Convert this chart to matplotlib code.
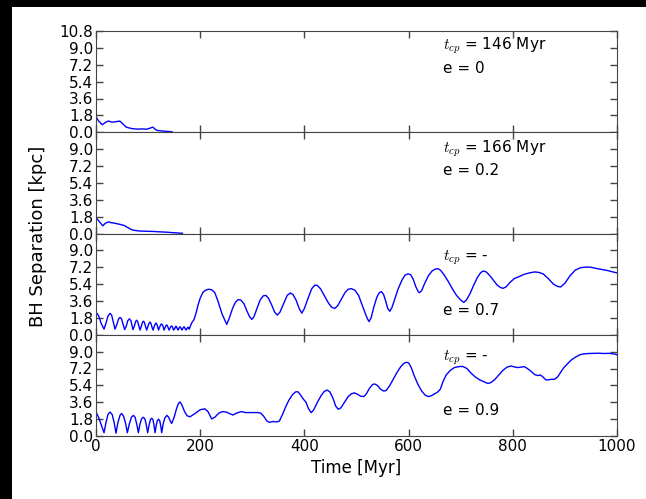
import matplotlib
matplotlib.use('Agg')
import matplotlib.pyplot as plt
from matplotlib.patches import Rectangle

plt.rcParams['font.family'] = ['DejaVu Sans']
plt.rcParams['mathtext.fontset'] = 'cm'

# BH separation [kpc] vs time [Myr] for the four eccentricities
t_e0 = [0, 5, 12, 18, 24, 29, 34, 40, 46, 52, 58, 64, 70, 76, 81, 89, 97, 103, 109, 113, 117, 125, 133, 140, 146]
r_e0 = [1.65, 1.2, 0.8, 1.05, 1.2, 1.1, 1.08, 1.15, 1.19, 0.85, 0.55, 0.45, 0.38, 0.35, 0.33, 0.36, 0.32, 0.42,
        0.55, 0.35, 0.2, 0.15, 0.1, 0.08, 0.05]

t_e02 = [0, 6, 13, 18, 24, 29, 34, 44, 54, 62, 70, 78, 85, 97, 109, 121, 133, 150, 166]
r_e02 = [1.7, 1.3, 0.82, 1.1, 1.24, 1.15, 1.12, 1.0, 0.86, 0.6, 0.37, 0.3, 0.26, 0.24, 0.22, 0.18, 0.15, 0.08, 0.02]

t_e07 = [0, 2.6, 6, 10, 15.4, 19, 23, 26.9, 30, 33, 36.5, 40, 43, 46.1, 49, 52, 55, 58, 61, 64, 67, 69, 71,
         73.5, 76, 78, 80, 82.5, 84.5, 87, 89, 91, 93, 95.5, 97.3, 99.5, 101.5, 103.7, 105.5, 107.5, 109.5, 111.5,
         113.3, 115.2, 117, 118.5, 120, 122, 124, 126, 128, 129.5, 130.6, 132.5, 134, 135.7, 137.5, 139, 140, 142,
         143.5, 145.3, 147, 148, 149, 151, 152.3, 153.6, 155, 156.5, 157.5, 159, 160.3, 161.3, 162.5, 164, 165,
         166.5, 168, 169, 170.3, 171.8, 172.8, 174.5, 176, 176.7, 178, 179, 181, 184, 188, 192, 196, 200, 205, 210,
         216, 222, 228, 234, 242, 251, 256, 262, 268, 273, 278, 284, 290, 295, 299, 303, 309, 315, 321, 326, 331,
         337, 343, 348, 353, 360, 367, 373, 378, 384, 390, 395, 400, 407, 414, 420, 425, 431, 438, 446, 452, 458,
         464, 471, 478, 484, 490, 497, 504, 510, 516, 521, 524, 528, 533, 539, 544, 548, 552, 556, 560, 564, 568,
         574, 580, 587, 593, 599, 604, 609, 614, 619, 621, 625, 631, 638, 645, 651, 656, 661, 668, 676, 684, 692,
         700, 706, 711, 718, 725, 732, 738, 743, 749, 756, 763, 770, 776, 781, 787, 795, 803, 812, 822, 832, 842,
         850, 858, 868, 878, 886, 892, 900, 910, 920, 930, 940, 950, 962, 972, 982, 992, 1000]
r_e07 = [2.2, 2.25, 1.9, 1.2, 0.6, 1.2, 2.0, 2.28, 2.1, 1.4, 0.6, 1.1, 1.65, 1.85, 1.7, 1.1, 0.55, 0.9, 1.5, 1.7,
         1.5, 1.0, 0.55, 0.9, 1.4, 1.55, 1.4, 0.9, 0.5, 0.9, 1.3, 1.45, 1.3, 0.8, 0.5, 0.85, 1.2, 1.35, 1.2, 0.8,
         0.5, 0.85, 1.1, 1.25, 1.1, 0.8, 0.5, 0.8, 1.05, 1.15, 1.0, 0.7, 0.5, 0.75, 0.95, 1.05, 0.9, 0.65, 0.5,
         0.7, 0.85, 0.95, 0.8, 0.6, 0.5, 0.65, 0.82, 0.9, 0.8, 0.6, 0.5, 0.65, 0.8, 0.85, 0.75, 0.58, 0.5, 0.65,
         0.8, 0.85, 0.75, 0.58, 0.5, 0.65, 0.78, 0.8, 0.7, 0.6, 0.9, 1.3, 1.6, 2.3, 3.2, 3.9, 4.5, 4.75, 4.85, 4.8,
         4.5, 3.6, 2.2, 1.1, 1.8, 2.8, 3.5, 3.75, 3.7, 3.3, 2.5, 1.9, 1.64, 1.9, 2.8, 3.7, 4.15, 4.2, 3.9, 3.2, 2.4,
         2.1, 2.4, 3.3, 4.2, 4.45, 4.3, 3.7, 2.8, 2.3, 2.8, 3.9, 4.9, 5.3, 5.25, 4.9, 4.2, 3.4, 2.95, 2.8, 3.1, 3.8,
         4.5, 4.85, 4.92, 4.75, 4.2, 3.3, 2.4, 1.7, 1.4, 1.8, 2.9, 4.0, 4.5, 4.6, 4.3, 3.6, 2.8, 2.5, 2.9, 3.9, 4.9,
         5.8, 6.35, 6.5, 6.4, 5.9, 5.1, 4.55, 4.5, 4.7, 5.5, 6.3, 6.8, 7.0, 7.05, 6.9, 6.4, 5.7, 4.9, 4.2, 3.7,
         3.45, 3.7, 4.4, 5.3, 6.1, 6.6, 6.8, 6.7, 6.3, 5.8, 5.3, 5.05, 4.95, 5.1, 5.6, 6.0, 6.2, 6.45, 6.6, 6.7,
         6.65, 6.5, 6.0, 5.4, 5.15, 5.1, 5.5, 6.3, 6.9, 7.15, 7.22, 7.2, 7.05, 6.95, 6.85, 6.7, 6.6]

t_e09 = [0, 1.3, 5, 10, 15.4, 19, 23, 27, 31, 35, 38.4, 42, 46, 49.3, 53, 57, 60.2, 64, 68, 71.7, 75, 78.5, 81.3,
         84.5, 87.5, 91, 94, 96.5, 99.2, 102, 104.5, 107, 109.5, 111.5, 113.3, 115.5, 117.5, 120, 122.5, 124.5,
         126.1, 129, 132, 136, 139.5, 142.5, 145.3, 150, 155, 158.5, 161.3, 165, 170, 175, 180.5, 190, 200, 209,
         215, 222, 228, 236, 243, 250, 258, 263, 270, 279, 287, 295, 303, 310, 316, 322, 328, 333, 340, 347, 352,
         358, 364, 370, 377, 383, 387, 391, 397, 403, 408, 413, 418, 425, 432, 438, 444, 449, 455, 460, 465, 470,
         477, 484, 490, 496, 502, 508, 514, 519, 525, 531, 535, 540, 546, 552, 557, 564, 571, 578, 585, 591, 596,
         600, 605, 611, 618, 625, 632, 638, 644, 650, 656, 661, 666, 672, 680, 688, 696, 704, 712, 720, 728, 736,
         744, 752, 758, 765, 773, 781, 789, 797, 804, 810, 816, 822, 828, 835, 842, 848, 853, 858, 863, 868, 874,
         880, 886, 892, 898, 905, 912, 920, 928, 935, 945, 955, 965, 975, 985, 995, 1000]
r_e09 = [2.4, 2.42, 2.0, 1.2, 0.35, 1.4, 2.3, 2.55, 2.3, 1.4, 0.3, 1.4, 2.2, 2.4, 2.1, 1.3, 0.35, 1.3, 2.0, 2.2,
         2.0, 1.2, 0.35, 1.3, 1.85, 2.0, 1.8, 1.2, 0.35, 1.2, 1.75, 1.9, 1.7, 1.1, 0.35, 1.1, 1.6, 1.8, 1.6, 1.0,
         0.35, 1.3, 1.9, 2.2, 2.0, 1.6, 1.34, 2.0, 3.0, 3.5, 3.63, 3.3, 2.6, 2.15, 2.05, 2.4, 2.8, 2.9, 2.6, 1.82,
         2.0, 2.45, 2.6, 2.55, 2.35, 2.24, 2.45, 2.6, 2.5, 2.5, 2.5, 2.5, 2.45, 2.1, 1.6, 1.46, 1.55, 1.5, 1.6,
         2.3, 3.1, 3.8, 4.4, 4.7, 4.73, 4.5, 4.0, 3.6, 2.9, 2.49, 2.8, 3.6, 4.3, 4.75, 4.9, 4.7, 4.0, 3.2, 2.85,
         3.0, 3.6, 4.2, 4.5, 4.6, 4.45, 4.25, 4.2, 4.5, 5.1, 5.5, 5.55, 5.4, 5.0, 4.8, 4.85, 5.4, 6.1, 6.8, 7.4,
         7.75, 7.86, 7.8, 7.3, 6.4, 5.5, 4.8, 4.35, 4.2, 4.3, 4.5, 4.7, 5.0, 5.8, 6.5, 7.0, 7.3, 7.4, 7.42, 7.2,
         6.7, 6.3, 6.0, 5.8, 5.6, 5.7, 6.0, 6.5, 7.0, 7.35, 7.47, 7.35, 7.3, 7.35, 7.4, 7.2, 6.9, 6.55, 6.45, 6.5,
         6.3, 6.0, 5.98, 6.05, 6.05, 6.3, 6.8, 7.3, 7.7, 8.1, 8.4, 8.65, 8.75, 8.8, 8.82, 8.83, 8.8, 8.82, 8.75, 8.65]

series = [(t_e0, r_e0), (t_e02, r_e02), (t_e07, r_e07), (t_e09, r_e09)]
tcp_labels = ['146 Myr', '166 Myr', '-', '-']
ecc_labels = ['0', '0.2', '0.7', '0.9']
# (x, y) of the t_cp and e labels in axes fraction
tcp_pos = [(0.666, 0.85), (0.666, 0.84), (0.666, 0.76), (0.666, 0.77)]
ecc_pos = [(0.666, 0.63), (0.666, 0.62), (0.666, 0.24), (0.666, 0.25)]

xticks = [0, 200, 400, 600, 800, 1000]
yticks = [0.0, 1.8, 3.6, 5.4, 7.2, 9.0]

fig = plt.figure(figsize=(6.46, 4.99), dpi=100, facecolor='white')
# the screenshot has a black border along the top and the left edge
fig.patches.append(Rectangle((0, 1 - 7 / 499), 1, 7 / 499, transform=fig.transFigure,
                             facecolor='black', edgecolor='none', zorder=5))
fig.patches.append(Rectangle((0, 0), 12 / 646, 1, transform=fig.transFigure,
                             facecolor='black', edgecolor='none', zorder=5))

left, right = 96 / 646, 617 / 646
top, bottom = 1 - 31 / 499, 1 - 436 / 499
h = (top - bottom) / 4
spine_col = '#444444'

axes = []
for i, (t, r) in enumerate(series):
    ax = fig.add_axes([left, top - (i + 1) * h, right - left, h])
    ax.plot(t, r, color='#0000ff', lw=1.0)
    ax.set_xlim(0, 1000)
    ax.set_ylim(0, 10.8)
    ax.set_xticks(xticks)
    if i == 0:
        ax.set_yticks(yticks + [10.8])
    else:
        ax.set_yticks(yticks)
    ax.set_yticklabels(['%.1f' % v for v in ax.get_yticks()])
    ax.tick_params(direction='in', top=True, right=True, length=5, width=1, color=spine_col,
                   labelsize=11, pad=2)
    if i < 3:
        ax.tick_params(labelbottom=False)
    for s in ax.spines.values():
        s.set_color(spine_col)
    ax.text(tcp_pos[i][0], tcp_pos[i][1], r'$t_{cp}$ = ' + tcp_labels[i], transform=ax.transAxes,
            fontsize=11, va='center', ha='left')
    ax.text(ecc_pos[i][0], ecc_pos[i][1], 'e = ' + ecc_labels[i], transform=ax.transAxes,
            fontsize=11, va='center', ha='left')
    axes.append(ax)

axes[-1].set_xlabel('Time [Myr]', fontsize=12, labelpad=4)
fig.text(38 / 646, 1 - 236 / 499, 'BH Separation [kpc]', rotation=90, fontsize=13,
         ha='center', va='center')

fig.savefig('out.png', dpi=100, facecolor=fig.get_facecolor())
